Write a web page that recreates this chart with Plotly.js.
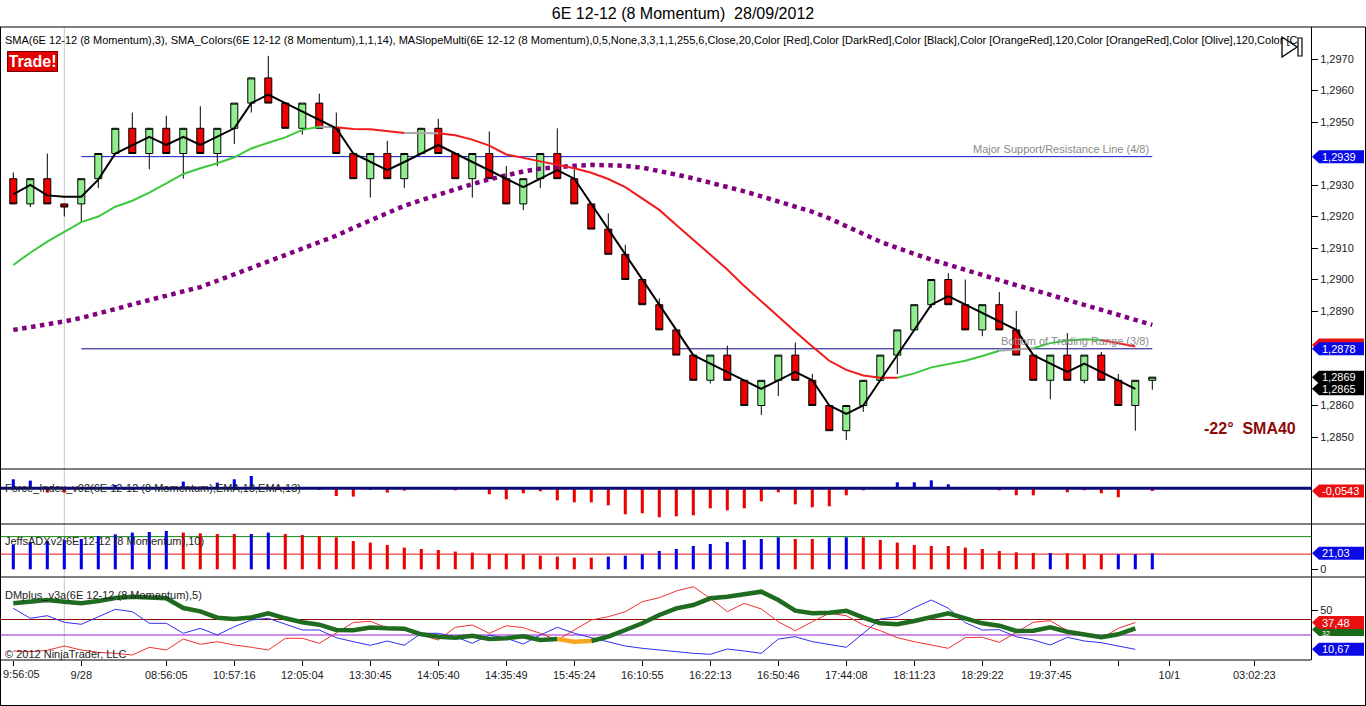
<!DOCTYPE html>
<html><head><meta charset="utf-8">
<script src="https://cdn.plot.ly/plotly-3.0.1.min.js"></script>
<style>html,body{margin:0;padding:0;background:#fff;}#chart{width:1366px;height:706px;}</style>
</head><body><div id="chart"></div>
<script>
// ---------- DATA ----------
const barX = Array.from({length: 68}, (_, i) => i);   // momentum bar index

const openP  = [1.2932,1.2924,1.2932,1.2924,1.2924,1.2932,1.2940,1.2948,1.2940,1.2948,1.2940,1.2948,1.2940,1.2948,1.2956,1.2964,1.2956,1.2948,1.2956,1.2948,
                1.2940,1.2932,1.2940,1.2932,1.2940,1.2948,1.2940,1.2932,1.2940,1.2932,1.2924,1.2932,1.2940,1.2932,1.2924,1.2916,1.2908,1.2900,1.2892,1.2884,
                1.2876,1.2868,1.2876,1.2868,1.2860,1.2868,1.2876,1.2868,1.2860,1.2852,1.2860,1.2868,1.2876,1.2884,1.2892,1.2900,1.2892,1.2884,1.2892,1.2884,
                1.2876,1.2868,1.2876,1.2868,1.2876,1.2868,1.2860,1.2868];
const highP  = [1.2934,1.2932,1.2940,1.2924,1.2932,1.2940,1.2948,1.2953,1.2948,1.2952,1.2948,1.2955,1.2948,1.2956,1.2964,1.2971,1.2956,1.2956,1.2959,1.2953,
                1.2940,1.2940,1.2944,1.2940,1.2948,1.2951,1.2940,1.2940,1.2947,1.2936,1.2932,1.2940,1.2948,1.2935,1.2924,1.2921,1.2911,1.2900,1.2894,1.2884,
                1.2876,1.2876,1.2879,1.2868,1.2868,1.2876,1.2880,1.2870,1.2860,1.2860,1.2868,1.2876,1.2884,1.2892,1.2900,1.2902,1.2900,1.2892,1.2896,1.2890,
                1.2876,1.2876,1.2883,1.2876,1.2877,1.2870,1.2868,1.2869];
const lowP   = [1.2924,1.2923,1.2924,1.2920,1.2918,1.2929,1.2940,1.2940,1.2935,1.2940,1.2932,1.2940,1.2936,1.2943,1.2953,1.2956,1.2948,1.2946,1.2948,1.2940,
                1.2932,1.2926,1.2932,1.2929,1.2940,1.2940,1.2932,1.2926,1.2932,1.2924,1.2922,1.2929,1.2932,1.2924,1.2916,1.2908,1.2900,1.2892,1.2884,1.2876,
                1.2868,1.2867,1.2868,1.2860,1.2857,1.2863,1.2868,1.2860,1.2852,1.2849,1.2858,1.2868,1.2870,1.2884,1.2891,1.2892,1.2884,1.2882,1.2884,1.2876,
                1.2868,1.2862,1.2868,1.2867,1.2868,1.2860,1.2852,1.2865];
const closeP = [1.2924,1.2932,1.2924,1.2923,1.2932,1.2940,1.2948,1.2940,1.2948,1.2940,1.2948,1.2940,1.2948,1.2956,1.2964,1.2956,1.2948,1.2956,1.2948,1.2940,
                1.2932,1.2940,1.2932,1.2940,1.2948,1.2940,1.2932,1.2940,1.2932,1.2924,1.2932,1.2940,1.2932,1.2924,1.2916,1.2908,1.2900,1.2892,1.2884,1.2876,
                1.2868,1.2876,1.2868,1.2860,1.2868,1.2876,1.2868,1.2860,1.2852,1.2860,1.2868,1.2876,1.2884,1.2892,1.2900,1.2892,1.2884,1.2892,1.2884,1.2876,
                1.2868,1.2876,1.2868,1.2876,1.2868,1.2860,1.2868,1.2869];

// SMA(3) black line
const sma3 = [1.2927,1.2930,1.29267,1.29263,1.29263,1.29317,1.2940,1.29427,1.29453,1.29427,1.29453,1.29427,1.29453,1.2948,1.2956,1.29587,1.2956,1.29533,1.29507,1.2948,
              1.2940,1.29373,1.29347,1.29373,1.2940,1.29427,1.2940,1.29373,1.29347,1.2932,1.29293,1.2932,1.29347,1.2932,1.2924,1.2916,1.2908,1.2900,1.2892,1.2884,
              1.2876,1.28733,1.28707,1.2868,1.28653,1.2868,1.28707,1.2868,1.2860,1.28573,1.2860,1.2868,1.2876,1.2884,1.2892,1.28947,1.2892,1.28893,1.28867,1.2884,
              1.2876,1.28733,1.28707,1.28733,1.28707,1.2868,1.28653,null];

// SMA_Colors(14) line and its colour state (G rising, R falling, N flat) per segment ending at each bar
const smaColorVals = [1.29046,1.29085,1.29120,1.29150,1.29182,1.29200,1.29231,1.29250,1.29276,1.29305,1.29335,1.29353,1.29369,1.29388,1.29416,1.29434,1.29451,1.29475,1.29485,1.29483,
                      1.29478,1.29477,1.29471,1.29465,1.29465,1.29464,1.29458,1.29444,1.29425,1.29397,1.29387,1.29375,1.29364,1.29353,1.29339,1.29319,1.29293,1.29258,1.29221,1.29173,
                      1.29125,1.29078,1.29032,1.28979,1.28930,1.28882,1.28834,1.28787,1.28742,1.28713,1.28695,1.28688,1.28688,1.28702,1.28721,1.28732,1.28742,1.28757,1.28774,1.28778,
                      1.28782,1.28798,1.28806,1.28810,1.28808,1.28798,1.28787,null];
const smaColorState = ["-","GGGGGGGGG","GGGGGGGGG","N","RRRR","NN","RRRRRRRRR","RRRRRRRRR","RRRRRRRRR","GGGGGG","NN","GGGG","RR","-"].join("");

// MASlopeMulti SMA40 (purple dotted)
const sma40 = [1.28840,1.28848,1.28857,1.28867,1.28878,1.28891,1.28906,1.28921,1.28935,1.28949,1.28962,1.28976,1.28996,1.29016,1.29036,1.29056,1.29076,1.29096,1.29117,1.29139,
               1.29164,1.29188,1.29212,1.29234,1.29252,1.29270,1.29287,1.29303,1.29318,1.29332,1.29343,1.29352,1.29358,1.29361,1.29364,1.29364,1.29361,1.29355,1.29345,1.29333,
               1.29321,1.29308,1.29294,1.29280,1.29264,1.29248,1.29232,1.29215,1.29194,1.29170,1.29145,1.29120,1.29100,1.29080,1.29063,1.29047,1.29030,1.29014,1.28998,1.28982,
               1.28967,1.28951,1.28935,1.28919,1.28903,1.28886,1.28871,1.28856];

// Support / resistance levels
const levelVals   = [1.2939, 1.2878];
const levelLabels = ["Major Support/Resistance Line (4/8)", "Bottom of Trading Range (3/8)"];
const levelFromBar = 4, levelToBar = 67, sessionBreakBar = 3;

// Force_Index_v02
const forceIdx = [0.18,0.154,-0.086,-0.086,0,0,0.066,-0.034,0,0,0.134,0,0.114,0.18,0.246,0,-0.034,0,-0.034,-0.154,
                  -0.166,-0.034,-0.086,-0.046,0,-0.02,-0.04,0,-0.12,-0.22,-0.10,-0.06,-0.24,-0.28,-0.28,-0.34,-0.52,-0.50,-0.58,-0.56,
                  -0.54,-0.40,-0.44,-0.40,-0.26,-0.08,-0.32,-0.38,-0.36,-0.14,-0.04,0,0.12,0.12,0.16,0.08,-0.02,0,-0.04,-0.14,
                  -0.14,-0.02,-0.08,-0.04,-0.10,-0.18,-0.02,-0.0543];

// JeffsADXv2
const adxVals = [32,35.5,37.2,38.6,39.9,43.8,46,48.3,49.1,50.4,48.3,47.4,46.4,46.4,46.4,48.3,46.4,45.1,43.8,42.1,
                 37.2,35.1,32,28.6,26.7,25.4,23.3,22,20.1,20.1,19.7,18,16.7,15.4,15.4,16.7,18,19.7,24.1,26.7,
                 30.7,33.3,35.9,38.6,39.9,42.1,39.9,39.9,41.7,42.1,42.1,38.6,35.1,32,30.7,30.7,28.6,26.7,24.1,22.4,
                 21.4,21.4,21.1,19.7,19.7,19.7,19.7,21.03];
const adxDir = ["BBBBBBBBBB","RRRR","BB","RRRRRRRRRRRRRRRRRRR","BBBBBBBBBBB","RR","BB","RRRRRRRRRRR","B","RRR","BBB"].join("");
const adxLevels = [43, 20];

// DMplus_v3a
const dmAdx = [56.7,58,60,58.3,56.7,59,62,63.3,62.5,61.7,52,48.7,42.3,41,42.5,46.7,41.7,37.7,35.3,30,
               29.7,32.5,31.7,31.3,25.7,23.3,22.3,24.3,21,21.7,23.7,20,21,18.3,19,23.3,30,36.7,45,51.7,
               55,61.7,63.3,65.7,68.3,60,49.3,46.7,47.3,49.3,42.3,36.7,35.7,39,43.3,46.7,41.7,36.7,34.3,29,
               29.3,32.7,28.3,25.7,22.7,25.7,31.7,null];
const dmAdxState = ["-","GGGGGGGGGGGGGGGGGGGGGGGGGGGGGGGG","OO","GGGGGGGGGGGGGGGGGGGGGGGGGGGGGGGG","-"].join("");
const dmPlus = [9,8.3,9.7,14,10,7.7,6.7,5,12.7,10,21,15.7,18.3,15,12.7,10,21.7,21.7,16.7,26.7,
                37.5,38.7,32,30,25,20,32.7,35,26.7,34.3,32.3,26.7,20,30,40,43.3,48.3,58.3,62.3,69,
                73.3,61.7,48.3,56.7,51,38.3,29.3,38.3,46.7,44.3,35,29.3,22.3,18.3,15,11.7,22.3,22.7,17.7,27.7,
                37.7,39.3,29.3,25,21.7,31.7,37.48,null];
const dmMinus = [51.7,41.7,44.3,37.7,35.7,43.3,50.7,48.3,36.7,36.7,26.7,31.7,25,33.3,40,41.7,35.7,30,30,22.3,
                 18.3,14.7,19,14.7,26.7,26.7,23.3,16.7,25,21.7,16,25,32.7,26.7,22.3,18.3,14,11.7,10,7.7,
                 6.7,5.7,11,9,6.7,21,23.3,18.3,15.7,12.7,26.7,41,43.3,52.3,60,51.7,37.3,30,30.3,23.3,
                 20,15,22.7,19,17.3,14.3,10.67,null];
const dmLevels = [40.5, 25];

// Axis ticks (1,2940 / 1,2880 / 1,2870 are hidden under value tags in the reference)
const priceTicks = [1.2850,1.2860,1.2890,1.2900,1.2910,1.2920,1.2930,1.2950,1.2960,1.2970];
const xTickBars   = [0,4,9,13,17,21,25,29,33,37,41,45,49,53,57,61,65,68,73];
const xTickLabels = ["","9/28","08:56:05","10:57:16","12:05:04","13:30:45","14:05:40","14:35:49","15:45:24","16:10:55",
                     "16:22:13","16:50:46","17:44:08","18:11:23","18:29:22","19:37:45","","10/1","03:02:23"];
const firstTickLabel = "9:56:05";   // first label, clipped at the chart's left edge in the reference

// ---------- LAYOUT HELPERS ----------
const W = 1366, H = 706, ML = 0, MR = 55, MT = 27, MB = 46;
const PW = W - ML - MR, PH = H - MT - MB;
const px = x => (x - ML) / PW;
const py = y => (MT + PH - y) / PH;
const FONT = "Liberation Sans, Arial, sans-serif";

const dPrice = [py(469), 1], dForce = [py(524), py(469)], dAdx = [py(577), py(524)], dDm = [0, py(577)];

function segTraces(vals, states, colorMap, width, yaxis, dash) {
  const out = {};
  for (let i = 1; i < vals.length; i++) {
    if (vals[i] == null || vals[i-1] == null) continue;
    const s = states[i];
    if (!colorMap[s]) continue;
    if (!out[s]) out[s] = {x: [], y: []};
    const t = out[s];
    if (t.x.length && t.x[t.x.length-1] === i-1) { t.x.push(i); t.y.push(vals[i]); }
    else { if (t.x.length) { t.x.push(null); t.y.push(null); } t.x.push(i-1, i); t.y.push(vals[i-1], vals[i]); }
  }
  return Object.keys(out).map(s => ({type:'scatter', mode:'lines', x: out[s].x, y: out[s].y, yaxis: yaxis,
    line:{color: colorMap[s], width: width, dash: dash || 'solid'}, hoverinfo:'skip', connectgaps:false, showlegend:false}));
}

const traces = [];
traces.push({type:'candlestick', x: barX, open: openP, high: highP, low: lowP, close: closeP, yaxis:'y',
  increasing:{line:{color:'#000', width:1}, fillcolor:'#90EE90'},
  decreasing:{line:{color:'#000', width:1}, fillcolor:'#F00000'},
  whiskerwidth:0, hoverinfo:'skip', showlegend:false});
traces.push({type:'scatter', mode:'lines', x: barX, y: sma40, yaxis:'y', line:{color:'#800080', width:4.5, dash:'dot'}, hoverinfo:'skip', showlegend:false});
segTraces(smaColorVals, smaColorState, {G:'#3CC83C', R:'#F21A1A', N:'#A8A8A8'}, 2, 'y').forEach(t => traces.push(t));
traces.push({type:'scatter', mode:'lines', x: barX, y: sma3, yaxis:'y', line:{color:'#000', width:2}, hoverinfo:'skip', showlegend:false});
traces.push({type:'bar', x: barX, y: forceIdx, yaxis:'y2', width:0.18,
  marker:{color: forceIdx.map(v => v >= 0 ? '#0000E6' : '#EE0000'), line:{width:0}}, hoverinfo:'skip', showlegend:false});
traces.push({type:'bar', x: barX, y: adxVals, yaxis:'y3', width:0.18,
  marker:{color: adxDir.split('').map(c => c === 'B' ? '#0000E6' : '#EE0000'), line:{width:0}}, hoverinfo:'skip', showlegend:false});
traces.push({type:'scatter', mode:'lines', x: barX, y: dmMinus, yaxis:'y4', line:{color:'#2E2EF0', width:1}, hoverinfo:'skip', showlegend:false});
traces.push({type:'scatter', mode:'lines', x: barX, y: dmPlus, yaxis:'y4', line:{color:'#F03030', width:1}, hoverinfo:'skip', showlegend:false});
segTraces(dmAdx, dmAdxState, {G:'#1F6B1F', O:'#F5A623'}, 4.5, 'y4').forEach(t => traces.push(t));

// ---------- SHAPES ----------
const shapes = [];
const frameRight = px(1365.5), frameBottom = py(705.5);
shapes.push({type:'line', xref:'x', yref:'paper', x0: sessionBreakBar, x1: sessionBreakBar, y0: 0, y1: 1, line:{color:'#C8C8C8', width:1}, layer:'below'});
levelVals.forEach((v, k) => shapes.push({type:'line', xref:'x', yref:'y', x0: levelFromBar, x1: levelToBar, y0: v, y1: v,
  line:{color: k === 0 ? '#1414C8' : '#0A0A8C', width:1}, layer:'below'}));
shapes.push({type:'line', xref:'paper', yref:'y2', x0: 0, x1: 1, y0: 0, y1: 0, line:{color:'#0A0A78', width:3}, layer:'above'});
shapes.push({type:'line', xref:'paper', yref:'y3', x0: 0, x1: 1, y0: adxLevels[0], y1: adxLevels[0], line:{color:'#128A12', width:1}, layer:'below'});
shapes.push({type:'line', xref:'paper', yref:'y3', x0: 0, x1: 1, y0: adxLevels[1], y1: adxLevels[1], line:{color:'#E81010', width:1}, layer:'below'});
shapes.push({type:'line', xref:'paper', yref:'y4', x0: 0, x1: 1, y0: dmLevels[0], y1: dmLevels[0], line:{color:'#8B0A0A', width:1}, layer:'below'});
shapes.push({type:'line', xref:'paper', yref:'y4', x0: 0, x1: 1, y0: dmLevels[1], y1: dmLevels[1], line:{color:'#9A1AD6', width:1}, layer:'below'});
[[0,1,1,1],[0,frameRight,dForce[1],dForce[1]],[0,frameRight,dAdx[1],dAdx[1]],[0,frameRight,dDm[1],dDm[1]],[0,1,0,0],[0,frameRight,frameBottom,frameBottom]]
  .forEach(s => shapes.push({type:'line', xref:'paper', yref:'paper', x0:s[0], x1:s[1], y0:s[2], y1:s[3], line:{color:'#000', width:1}}));
shapes.push({type:'line', xref:'paper', yref:'paper', x0:px(0.5), x1:px(0.5), y0:frameBottom, y1:1, line:{color:'#000', width:1}});
shapes.push({type:'line', xref:'paper', yref:'paper', x0:frameRight, x1:frameRight, y0:frameBottom, y1:1, line:{color:'#000', width:1}});
shapes.push({type:'line', xref:'paper', yref:'paper', x0:1, x1:frameRight, y0:1, y1:1, line:{color:'#000', width:1}});
shapes.push({type:'path', xref:'paper', yref:'paper',
  path:`M${px(1282)},${py(37)} L${px(1297)},${py(47)} L${px(1282)},${py(57)} Z`, line:{color:'#000', width:1.3}, fillcolor:'#fff'});
shapes.push({type:'rect', xref:'paper', yref:'paper', x0:px(1298), x1:px(1302), y0:py(56), y1:py(38), line:{color:'#000', width:1.2}, fillcolor:'#fff'});

// ---------- ANNOTATIONS ----------
const ann = [];
function tag(yref, val, text, bg, opts) {
  opts = opts || {};
  shapes.push({type:'path', xref:'paper', yref: yref, xsizemode:'pixel', ysizemode:'pixel', xanchor: 1, yanchor: val,
    path:'M1,0 L8,6.5 L53,6.5 L53,-6.5 L8,-6.5 Z', fillcolor: bg, line:{width:0}, layer:'above'});
  if (text) ann.push({xref:'paper', yref: yref, x: px(1320), y: val, xanchor:'left', yanchor:'middle', text: text, showarrow:false,
    yshift: opts.yshift || 0, font:{family: FONT, size: opts.size || 11, color: '#fff'}});
}
tag('y', 1.2939, '1,2939', '#0A0AE6');
tag('y', 1.28792, '', '#E81010');
tag('y', 1.2878, '1,2878', '#0A0AE6');
tag('y', 1.2869, '1,2869', '#000');
tag('y', 1.28653, '1,2865', '#000');
tag('y2', -0.0543, '-0,0543', '#E81010');
tag('y3', 21.03, '21,03', '#0A0AE6');
tag('y4', 30.6, '32', '#1A6A1A', {size: 7, yshift: -4});
tag('y4', 37.48, '37,48', '#E81010');
tag('y4', 10.67, '10,67', '#0A0AE6');

function txt(x, y, text, size, color, anchor, bold) {
  ann.push({xref:'paper', yref:'paper', x: px(x), y: py(y), xanchor: anchor || 'left', yanchor:'middle', showarrow:false,
    text: bold ? '<b>' + text + '</b>' : text, font:{family: FONT, size: size, color: color}});
}
txt(3, 40, 'SMA(6E 12-12 (8 Momentum),3), SMA_Colors(6E 12-12 (8 Momentum),1,1,14), MASlopeMulti(6E 12-12 (8 Momentum),0,5,None,3,3,1,1,255,6,Close,20,Color [Red],Color [DarkRed],Color [Black],Color [OrangeRed],120,Color [OrangeRed],Color [Olive],120,Color [C', 11, '#000');
txt(3, 488, 'Force_Index_v02(6E 12-12 (8 Momentum),EMA,13,EMA,13)', 11, '#222');
txt(3, 541, 'JeffsADXv2(6E 12-12 (8 Momentum),10)', 11, '#222');
txt(3, 595, 'DMplus_v3a(6E 12-12 (8 Momentum),5)', 11, '#222');
txt(3, 654, '© 2012 NinjaTrader, LLC', 11, '#222');
txt(1, 674, firstTickLabel, 11, '#222');
txt(1250, 428, '-22°\u00a0 SMA40', 16, '#8E0A0A', 'center', true);
ann.push({xref:'paper', yref:'paper', x: px(32.5), y: py(62), xanchor:'center', yanchor:'middle', showarrow:false,
  text:'<b>Trade!</b>', font:{family: FONT, size: 16, color:'#fff'}, bgcolor:'#E50000', bordercolor:'#7A0000', borderwidth:1, borderpad:1, width:47, height:17});
levelVals.forEach((v, k) => ann.push({xref:'x', yref:'y', x: levelToBar - 0.1, y: v, xanchor:'right', yanchor:'bottom', showarrow:false,
  text: levelLabels[k], font:{family: FONT, size: 11, color:'#8A8A8A'}}));

const axBase = {side:'right', anchor:'x', showgrid:false, zeroline:false, showline:true, linecolor:'#000', linewidth:1,
  ticks:'outside', ticklen:6, tickcolor:'#000', tickfont:{family: FONT, size: 11, color:'#222'}, fixedrange:true};

const layout = {
  width: W, height: H, margin:{l: ML, r: MR, t: MT, b: MB, pad: 0},
  paper_bgcolor:'#fff', plot_bgcolor:'#fff', separators:',.', showlegend:false, hovermode:false,
  boxgap: 0.41, boxgroupgap: 0.3, barmode:'overlay',
  title:{text:'6E 12-12 (8 Momentum)\u00a0 28/09/2012', x:0.5, xref:'container', y: 1 - 13/H, yref:'container', yanchor:'middle', xanchor:'center',
    font:{family: FONT, size: 16, color:'#000'}},
  xaxis:{anchor:'y4', range:[-(13.3)/17, (PW - 13.3)/17], showgrid:false, zeroline:false, showline:false,
    tickmode:'array', tickvals: xTickBars, ticktext: xTickLabels, ticks:'outside', ticklen:5, tickcolor:'#000',
    ticklabeloverflow:'allow', tickfont:{family: FONT, size: 11, color:'#222'}, rangeslider:{visible:false}, fixedrange:true},
  yaxis: Object.assign({}, axBase, {domain: dPrice, range:[1.2970 - 410/31500, 1.2970 + 32/31500], tickmode:'array', tickvals: priceTicks, tickformat:'.4f'}),
  yaxis2: Object.assign({}, axBase, {domain: dForce, range:[-0.714, 0.386], showticklabels:false, ticks:''}),
  yaxis3: Object.assign({}, axBase, {domain: dAdx, range:[-10.1, 59.6], tickmode:'array', tickvals:[0], ticktext:['0']}),
  yaxis4: Object.assign({}, axBase, {domain: dDm, range:[0, 83], tickmode:'array', tickvals:[50], ticktext:['50']}),
  shapes: shapes, annotations: ann
};

Plotly.newPlot('chart', traces, layout, {staticPlot:true, displayModeBar:false});
</script>
</body></html>
